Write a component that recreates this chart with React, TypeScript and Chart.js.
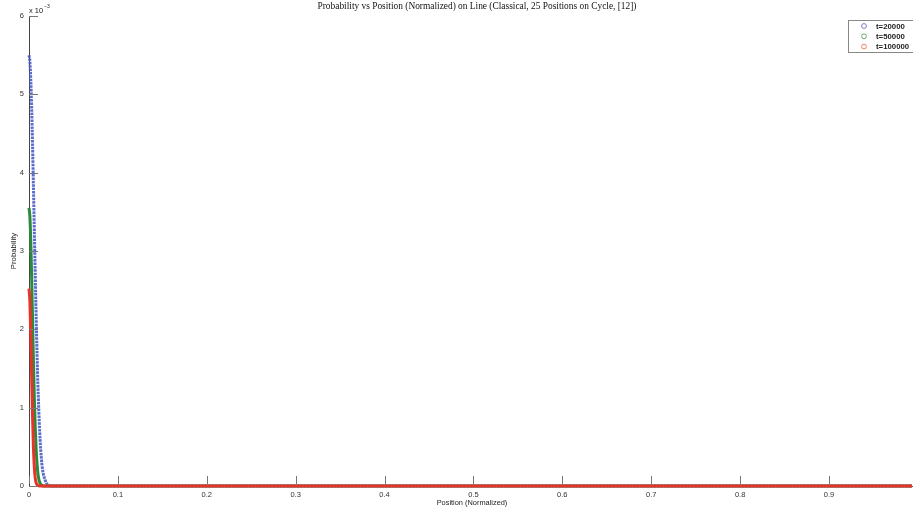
import React, { useEffect, useRef } from "react";
import { Chart, registerables } from "chart.js";

Chart.register(...registerables);

const chartTitle = "Probability vs Position (Normalized) on Line (Classical, 25 Positions on Cycle, [12])";
const xAxisTitle = "Position (Normalized)";
const yAxisTitle = "Probability";
const seriesLabels = ["t=20000", "t=50000", "t=100000"];

const xTicks = [0, 0.1, 0.2, 0.3, 0.4, 0.5, 0.6, 0.7, 0.8, 0.9];
const yTicks = [0, 0.001, 0.002, 0.003, 0.004, 0.005, 0.006];
const xMax = 0.9934;

const blueX = [0, 0.001, 0.002, 0.003, 0.004, 0.005, 0.006, 0.007, 0.008, 0.009, 0.01, 0.011, 0.012, 0.013, 0.014, 0.015, 0.016, 0.018, 0.02, 0.022, 0.024, 0.026, 0.9934];
const blueY = [0.0055, 0.00542, 0.00518, 0.00482, 0.00436, 0.00382, 0.00326, 0.0027, 0.00218, 0.00171, 0.0013, 0.00097, 0.0007, 0.00049, 0.00034, 0.00023, 0.00016, 0.00008, 0.00003, 0.00001, 0.000002, 0, 0];

const greenX = [0, 0.001, 0.002, 0.003, 0.004, 0.005, 0.006, 0.007, 0.008, 0.009, 0.01, 0.011, 0.012, 0.013, 0.015, 0.017, 0.9934];
const greenY = [0.00355, 0.00344, 0.00312, 0.00266, 0.00213, 0.0016, 0.00113, 0.00076, 0.00048, 0.00029, 0.00016, 0.00009, 0.00005, 0.000025, 0.000005, 0, 0];

const redX = [0, 0.001, 0.002, 0.003, 0.004, 0.005, 0.006, 0.007, 0.008, 0.009, 0.01, 0.012, 0.9934];
const redY = [0.00252, 0.00236, 0.00194, 0.00139, 0.00088, 0.00049, 0.00024, 0.0001, 0.000045, 0.000018, 0.000005, 0, 0];

const lineColors = ["rgba(72,92,200,0.9)", "#2b8a3c", "#e8322a"];
const legendColors = ["#6a6ac4", "#5aa060", "#f07050"];

const toPoints = (xs: number[], ys: number[]) => xs.map((x, i) => ({ x, y: ys[i] }));

const overlay = {
  id: "matlabOverlay",
  afterDraw(chart: any) {
    const { ctx, chartArea, scales } = chart;
    const xs = scales.x;
    const ys = scales.y;
    ctx.save();
    // inward ticks
    ctx.strokeStyle = "#777";
    ctx.lineWidth = 1;
    ctx.beginPath();
    ys.ticks.forEach((t: any) => {
      const py = Math.round(ys.getPixelForValue(t.value)) + 0.5;
      ctx.moveTo(chartArea.left, py);
      ctx.lineTo(chartArea.left + 9, py);
    });
    xs.ticks.forEach((t: any) => {
      const px = Math.round(xs.getPixelForValue(t.value)) + 0.5;
      ctx.moveTo(px, chartArea.bottom - 2);
      ctx.lineTo(px, chartArea.bottom - 10);
    });
    ctx.stroke();

    // exponent label
    ctx.fillStyle = "#222";
    ctx.textBaseline = "alphabetic";
    ctx.textAlign = "left";
    ctx.font = "7.5px 'Liberation Sans'";
    ctx.fillText("x 10", chartArea.left, 13);
    ctx.font = "5px 'Liberation Sans'";
    ctx.fillText("\u22123", chartArea.left + 15, 8);

    // title
    ctx.font = "9.4px 'Liberation Serif'";
    ctx.textAlign = "center";
    ctx.fillStyle = "#111";
    ctx.fillText(chartTitle, 477, 9);

    // axis titles
    ctx.font = "7.4px 'Liberation Sans'";
    ctx.fillStyle = "#222";
    ctx.fillText(xAxisTitle, 472, 505);
    ctx.save();
    ctx.translate(16, 251);
    ctx.rotate(-Math.PI / 2);
    ctx.font = "7.8px 'Liberation Sans'";
    ctx.fillText(yAxisTitle, 0, 0);
    ctx.restore();

    // legend
    ctx.fillStyle = "#fff";
    ctx.fillRect(848, 20, 70, 32);
    ctx.strokeStyle = "#888";
    ctx.lineWidth = 1;
    ctx.strokeRect(848.5, 20.5, 70, 32);
    chart.data.datasets.forEach((ds: any, i: number) => {
      const cy = 26 + i * 10.3;
      ctx.beginPath();
      ctx.strokeStyle = legendColors[i];
      ctx.lineWidth = 0.9;
      ctx.arc(864, cy, 2.4, 0, Math.PI * 2);
      ctx.stroke();
      ctx.fillStyle = "#222";
      ctx.font = "bold 7.8px 'Liberation Sans'";
      ctx.textAlign = "left";
      ctx.textBaseline = "middle";
      ctx.fillText(ds.label, 876, cy + 0.5);
    });
    ctx.restore();
  },
};

export default function App() {
  const ref = useRef<HTMLCanvasElement | null>(null);
  useEffect(() => {
    if (!ref.current) return;
    const common = {
      showLine: true,
      borderWidth: 3,
      pointRadius: 0,
      cubicInterpolationMode: "monotone",
      clip: false,
    };
    const chart = new Chart(ref.current, {
      type: "scatter",
      data: {
        datasets: [
          {
            ...common,
            label: seriesLabels[0],
            data: toPoints(blueX, blueY),
            borderColor: lineColors[0],
            borderDash: [2.5, 0.9],
            order: 3,
          },
          {
            ...common,
            label: seriesLabels[1],
            data: toPoints(greenX, greenY),
            borderColor: lineColors[1],
            order: 2,
          },
          {
            ...common,
            label: seriesLabels[2],
            data: toPoints(redX, redY),
            borderColor: lineColors[2],
            order: 1,
          },
        ] as any,
      },
      options: {
        responsive: false,
        animation: false,
        layout: { padding: { top: 16, right: 1, left: 0, bottom: 0 } },
        plugins: {
          legend: { display: false },
          title: { display: false },
          tooltip: { enabled: false },
        },
        scales: {
          x: {
            type: "linear",
            min: 0,
            max: xMax,
            afterBuildTicks: (s: any) => {
              s.ticks = xTicks.map((v) => ({ value: v }));
            },
            afterFit: (s: any) => {
              s.height = 26;
            },
            grid: { display: false, drawTicks: false },
            border: { display: true, color: "#555" },
            ticks: {
              padding: 4,
              color: "#333",
              font: { family: "'Liberation Sans'", size: 7.5 },
              maxRotation: 0,
              autoSkip: false,
              callback: (v: any) => String(Math.round(Number(v) * 10) / 10),
            },
          },
          y: {
            type: "linear",
            min: 0,
            max: 0.006,
            afterBuildTicks: (s: any) => {
              s.ticks = yTicks.map((v) => ({ value: v }));
            },
            afterFit: (s: any) => {
              s.width = 29;
            },
            grid: { display: false, drawTicks: false },
            border: { display: true, color: "#444" },
            ticks: {
              padding: 5,
              color: "#333",
              font: { family: "'Liberation Sans'", size: 7.5 },
              autoSkip: false,
              callback: (v: any) => String(Math.round(Number(v) * 1000)),
            },
          },
        },
      },
      plugins: [overlay],
    });
    return () => chart.destroy();
  }, []);
  return (
    <div style={{ position: "fixed", left: 0, top: 0, width: 913, height: 512, background: "#fff" }}>
      <canvas ref={ref} width={913} height={512} style={{ display: "block", width: 913, height: 512 }} />
    </div>
  );
}
